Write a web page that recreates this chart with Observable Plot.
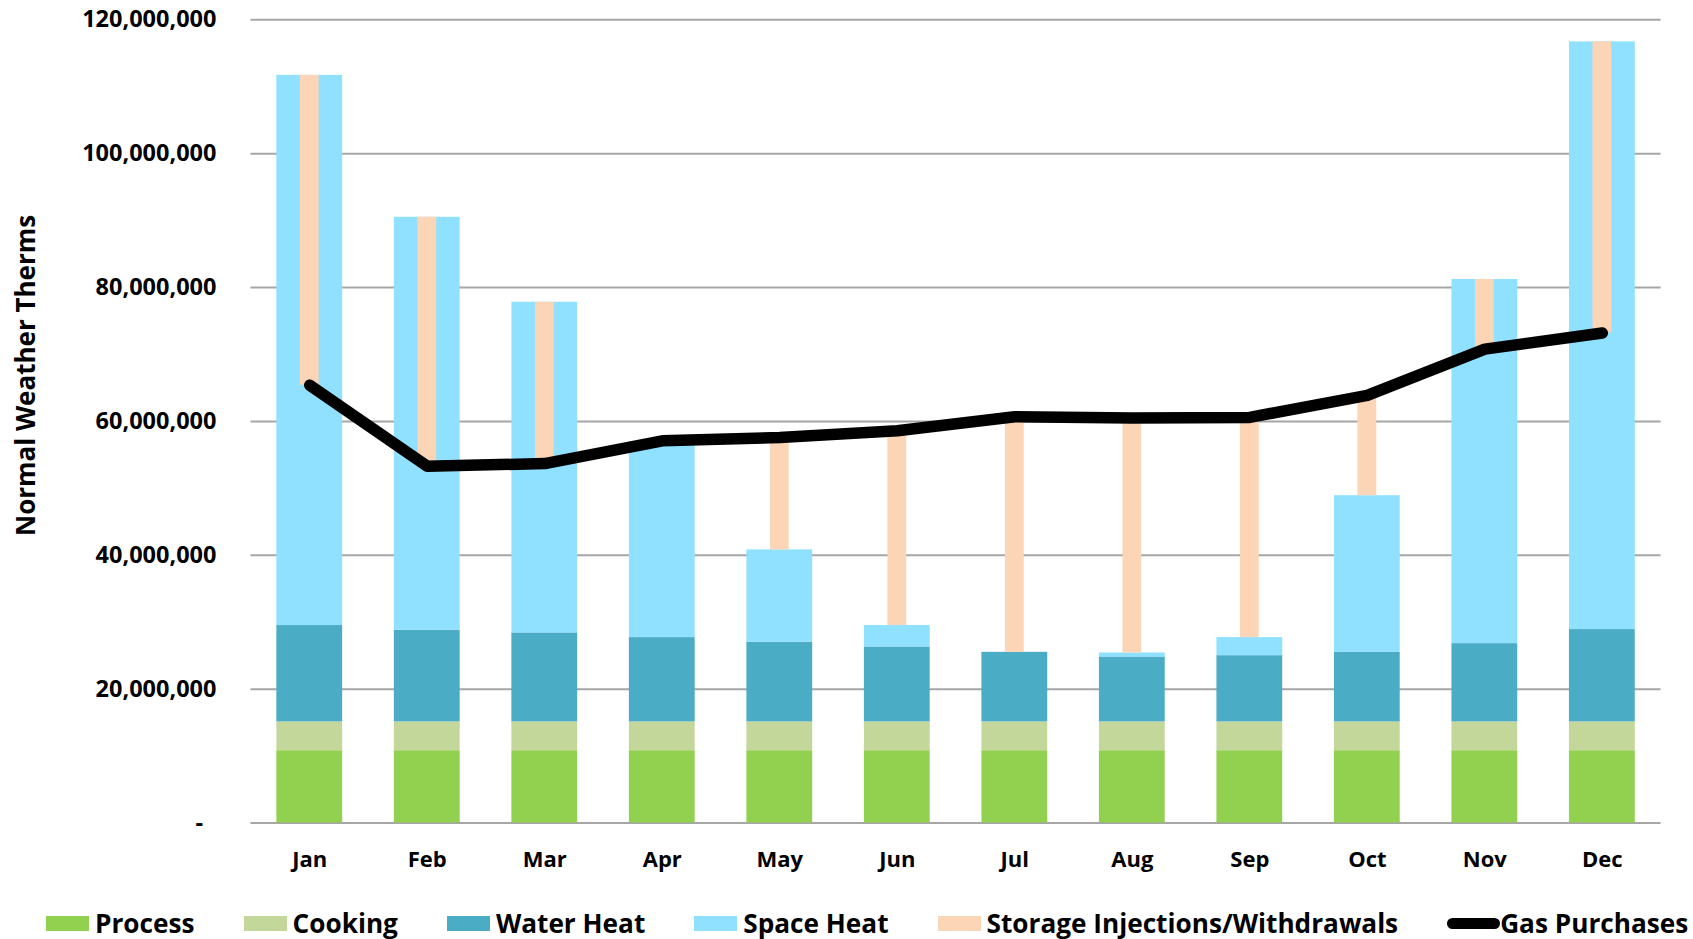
<!DOCTYPE html>
<html>
<head>
<meta charset="utf-8">
<script src="https://cdn.jsdelivr.net/npm/d3@7"></script>
<script src="https://cdn.jsdelivr.net/npm/@observablehq/plot@0.6"></script>
<style>
  html, body { margin: 0; padding: 0; background: #fff; overflow: hidden; }
  body { font-family: "Open Sans", sans-serif; color: #000; }
  #chart svg { display: block; }
  #legend { display: flex; align-items: center; height: 67px; padding-left: 46px; box-sizing: border-box; white-space: nowrap; }
  .item { display: flex; align-items: center; margin-right: 49px; font-size: 26.2px; font-weight: 700; line-height: 1; }
  .item:last-child { margin-right: 0; }
  .sw { width: 43px; height: 15px; margin-right: 6px; }
  .ln { width: 53px; height: 11px; border-radius: 6px; background: #000; margin-right: 0; }
</style>
</head>
<body>
<div id="chart"></div>
<div id="legend"></div>
<script>
// ---- data (values in therms) ----
const months = ["Jan","Feb","Mar","Apr","May","Jun","Jul","Aug","Sep","Oct","Nov","Dec"];
const processVals   = [10.8e6,10.8e6,10.8e6,10.8e6,10.8e6,10.8e6,10.8e6,10.8e6,10.8e6,10.8e6,10.8e6,10.8e6];
const cookingVals   = [4.3e6,4.3e6,4.3e6,4.3e6,4.3e6,4.3e6,4.3e6,4.3e6,4.3e6,4.3e6,4.3e6,4.3e6];
const waterHeatVals = [14.4e6,13.7e6,13.3e6,12.6e6,11.9e6,11.2e6,10.4e6,9.7e6,9.9e6,10.4e6,11.7e6,13.8e6];
const spaceHeatVals = [82.2e6,61.7e6,49.4e6,29.3e6,13.8e6,3.2e6,0,0.6e6,2.7e6,23.4e6,54.4e6,87.8e6];
const gasPurchases  = [65.4e6,53.3e6,53.7e6,57.1e6,57.6e6,58.6e6,60.7e6,60.5e6,60.6e6,63.9e6,70.8e6,73.2e6];
const yTicks = [0,20e6,40e6,60e6,80e6,100e6,120e6];
const seriesNames = ["Process","Cooking","Water Heat","Space Heat"];
const seriesColors = ["#92D050","#C4D79B","#4BACC6","#8FE1FF"];
const storageName = "Storage Injections/Withdrawals";
const storageColor = "#FBD5B5";
const lineName = "Gas Purchases";
const yTitle = "Normal Weather Therms";

// ---- tables built from the arrays ----
const seriesArrays = [processVals, cookingVals, waterHeatVals, spaceHeatVals];
const stacked = months.flatMap((m, i) => seriesNames.map((s, j) => ({month: m, series: s, value: seriesArrays[j][i]})));
const monthly = months.map((m, i) => ({
  month: m,
  total: seriesArrays.reduce((a, arr) => a + arr[i], 0),
  gas: gasPurchases[i]
}));

const FONT = "'Open Sans', sans-serif";
const chart = Plot.plot({
  width: 1693,
  height: 890,
  marginLeft: 250.5,
  marginRight: 32.4,
  marginTop: 19.3,
  marginBottom: 67.5,
  style: {fontFamily: FONT, color: "#000", background: "#fff", overflow: "visible"},
  x: {domain: months, paddingInner: 0.44, paddingOuter: 0.22, round: false, label: null},
  y: {domain: [0, 120e6], label: null},
  color: {domain: seriesNames, range: seriesColors},
  marks: [
    Plot.gridY(yTicks, {stroke: "#A6A6A6", strokeOpacity: 1, strokeWidth: 2}),
    Plot.barY(stacked, Plot.stackY({x: "month", y: "value", fill: "series", order: seriesNames})),
    Plot.barY(monthly, {x: "month", y1: "total", y2: "gas", fill: storageColor, insetLeft: 23.5, insetRight: 23.5}),
    Plot.lineY(monthly, {x: "month", y: "gas", stroke: "#000", strokeWidth: 11.5, strokeLinecap: "round", strokeLinejoin: "round"}),
    Plot.axisY(yTicks, {tickSize: 0, tickPadding: 34.5, fontSize: 23.5, fontWeight: 700, label: null,
      tickFormat: d => d === 0 ? "-\u2007" : d3.format(",")(d)}),
    Plot.axisX({tickSize: 0, tickPadding: 28, fontSize: 22, fontWeight: 700, label: null}),
    Plot.text([yTitle], {frameAnchor: "left", textAnchor: "middle", rotate: -90, dx: -224.5, dy: -46, fontSize: 26, fontWeight: 700})
  ]
});
document.getElementById("chart").appendChild(chart);

// ---- legend ----
const legend = document.getElementById("legend");
const entries = seriesNames.map((s, i) => ({name: s, color: seriesColors[i], kind: "sw"}))
  .concat([{name: storageName, color: storageColor, kind: "sw"}, {name: lineName, color: "#000", kind: "ln"}]);
for (const e of entries) {
  const item = document.createElement("div");
  item.className = "item";
  const sw = document.createElement("span");
  sw.className = e.kind;
  if (e.kind === "sw") sw.style.background = e.color;
  const label = document.createElement("span");
  label.textContent = e.name;
  item.appendChild(sw);
  item.appendChild(label);
  legend.appendChild(item);
}
</script>
</body>
</html>
